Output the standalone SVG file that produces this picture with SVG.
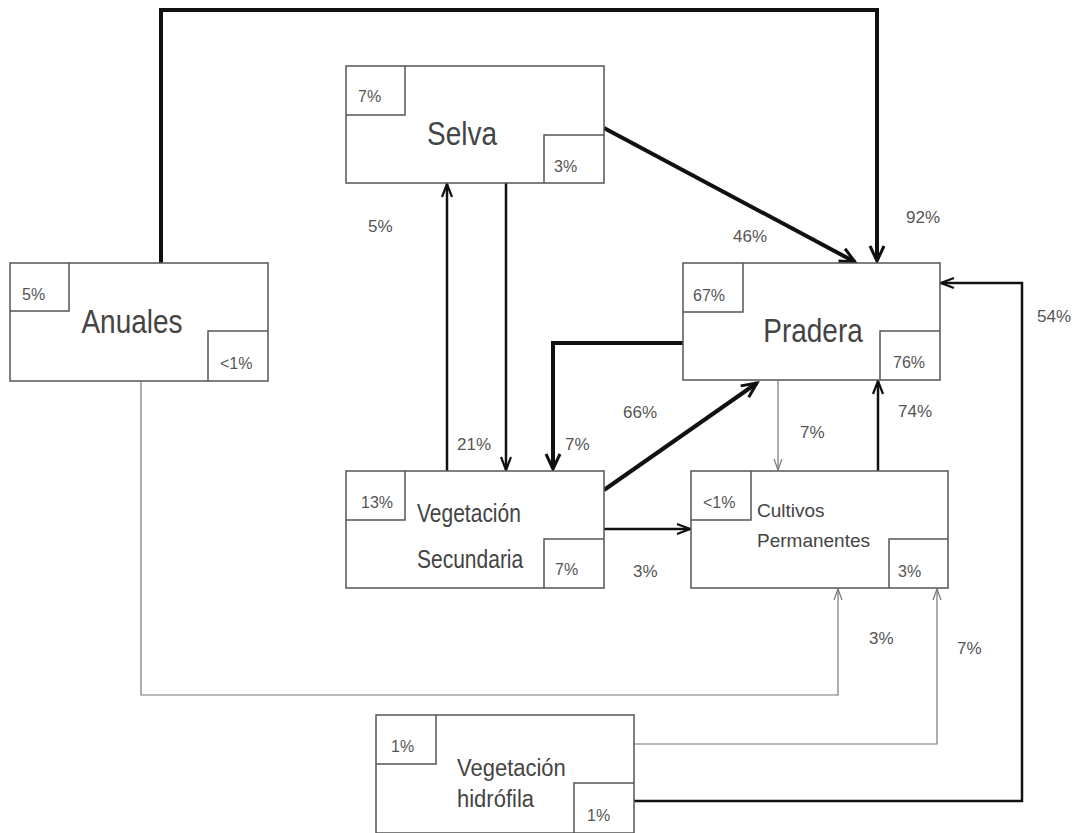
<svg xmlns="http://www.w3.org/2000/svg" width="1072" height="833" viewBox="0 0 1072 833">
<style>
.box{fill:#fff;stroke:#555;stroke-width:1.5}
.in{fill:none;stroke:#555;stroke-width:1.5}
.t{font-family:"Liberation Sans",Arial,sans-serif;fill:#444}
.big{font-size:28px}
.sm{font-size:16px;fill:#555}
.lbl{font-family:"Liberation Sans",Arial,sans-serif;font-size:17px;fill:#555}
.thick{fill:none;stroke:#111;stroke-width:4}
.med{fill:none;stroke:#111;stroke-width:2.5}
.thin{fill:none;stroke:#777;stroke-width:1.2}
</style>
<defs>
<marker id="ah" markerUnits="userSpaceOnUse" markerWidth="20" markerHeight="20" refX="17" refY="8" orient="auto" viewBox="0 0 20 16">
<path d="M2,1 L17,8 L2,15" fill="none" stroke="#111" stroke-width="3"/>
</marker>
<marker id="am" markerUnits="userSpaceOnUse" markerWidth="16" markerHeight="14" refX="14" refY="6" orient="auto" viewBox="0 0 16 12">
<path d="M1,1 L14,6 L1,11" fill="none" stroke="#111" stroke-width="2.2"/>
</marker>
<marker id="at" markerUnits="userSpaceOnUse" markerWidth="14" markerHeight="12" refX="12" refY="5" orient="auto" viewBox="0 0 14 10">
<path d="M1,1 L12,5 L1,9" fill="none" stroke="#777" stroke-width="1.2"/>
</marker>
</defs>
<rect width="1072" height="833" fill="#fff"/>
<g id="connectors">
<path class="thick" d="M161,263 V10 H877 V261" marker-end="url(#ah)"/>
<path class="thick" d="M604,128 L855,262" marker-end="url(#ah)"/>
<path class="med" d="M506,183 V470" marker-end="url(#am)"/>
<path class="med" d="M447,471 V184" marker-end="url(#am)"/>
<path class="thick" d="M683,343 H553 V469" marker-end="url(#ah)"/>
<path class="thick" d="M604,490 L757,383" marker-end="url(#ah)"/>
<path class="med" d="M604,529 H690" marker-end="url(#am)"/>
<path class="thin" d="M778,380 V470" marker-end="url(#at)"/>
<path class="med" d="M878,471 V381" marker-end="url(#am)"/>
<path class="thin" d="M141,381 V695 H838 V589" marker-end="url(#at)"/>
<path class="thin" d="M634,744 H937 V589" marker-end="url(#at)"/>
<path class="med" d="M634,801 H1022 V283 H941" marker-end="url(#am)"/>
<text class="lbl" x="906" y="223">92%</text>
<text class="lbl" x="733" y="242">46%</text>
<text class="lbl" x="457" y="450">21%</text>
<text class="lbl" x="368" y="232">5%</text>
<text class="lbl" x="565" y="450">7%</text>
<text class="lbl" x="623" y="418">66%</text>
<text class="lbl" x="633" y="577">3%</text>
<text class="lbl" x="800" y="438">7%</text>
<text class="lbl" x="898" y="417">74%</text>
<text class="lbl" x="869" y="644">3%</text>
<text class="lbl" x="957" y="654">7%</text>
<text class="lbl" x="1037" y="322">54%</text>
</g>
<g id="selva">
<rect class="box" x="346" y="66" width="258" height="117"/>
<path class="in" d="M346,115 H405 V66 M544,183 V135 H604"/>
<text class="t sm" x="358" y="102">7%</text>
<text class="t sm" x="554" y="172">3%</text>
<text class="t big" transform="translate(462,145) scale(1,1.2)" text-anchor="middle">Selva</text>
</g>
<g id="anuales">
<rect class="box" x="10" y="263" width="258" height="118"/>
<path class="in" d="M10,311 H69 V263 M208,381 V331 H268"/>
<text class="t sm" x="22" y="300">5%</text>
<text class="t sm" x="220" y="369">&lt;1%</text>
<text class="t big" transform="translate(132,333) scale(1,1.2)" text-anchor="middle">Anuales</text>
</g>
<g id="pradera">
<rect class="box" x="683" y="263" width="257" height="117"/>
<path class="in" d="M683,312 H743 V263 M880,380 V331 H940"/>
<text class="t sm" x="693" y="301">67%</text>
<text class="t sm" x="893" y="368">76%</text>
<text class="t big" transform="translate(813,342) scale(1,1.2)" text-anchor="middle">Pradera</text>
</g>
<g id="vegsec">
<rect class="box" x="346" y="471" width="258" height="117"/>
<path class="in" d="M346,520 H405 V471 M544,588 V539 H604"/>
<text class="t sm" x="361" y="508">13%</text>
<text class="t sm" x="555" y="575">7%</text>
<text class="t" font-size="21" transform="translate(417,522) scale(1,1.2)">Vegetación</text>
<text class="t" font-size="21" transform="translate(417,568) scale(1,1.2)">Secundaria</text>
</g>
<g id="cultivos">
<rect class="box" x="691" y="471" width="257" height="117"/>
<path class="in" d="M691,520 H751 V471 M889,588 V539 H948"/>
<text class="t sm" x="703" y="508">&lt;1%</text>
<text class="t sm" x="898" y="577">3%</text>
<text class="t" font-size="19" x="757" y="517">Cultivos</text>
<text class="t" font-size="19" x="757" y="547">Permanentes</text>
</g>
<g id="veghidro">
<rect class="box" x="376" y="715" width="258" height="118"/>
<path class="in" d="M376,764 H436 V715 M574,833 V783 H634"/>
<text class="t sm" x="391" y="752">1%</text>
<text class="t sm" x="587" y="821">1%</text>
<text class="t" font-size="22" transform="translate(457,776) scale(1,1.1)">Vegetación</text>
<text class="t" font-size="22" transform="translate(457,807) scale(1,1.1)">hidrófila</text>
</g>
</svg>
